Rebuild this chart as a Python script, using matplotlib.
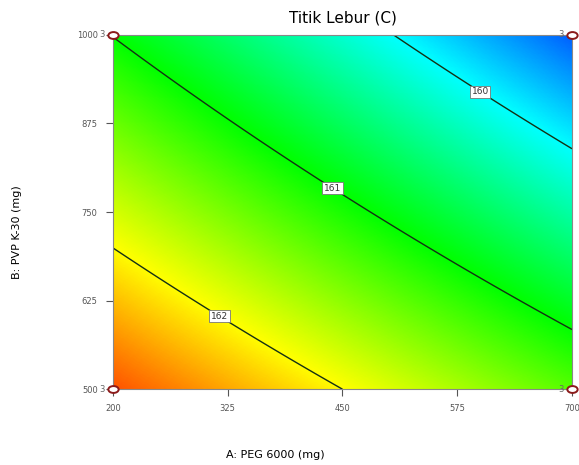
import numpy as np
import matplotlib
matplotlib.use("Agg")
import matplotlib.pyplot as plt
from matplotlib.colors import LinearSegmentedColormap
from matplotlib.path import Path
from matplotlib.transforms import Affine2D

# factor ranges (actual units)
peg_range = [200, 700]
pvp_range = [500, 1000]
x_ticks = [200, 325, 450, 575, 700]
y_ticks = [500, 625, 750, 875, 1000]

# fitted model in coded units: y = b0 + bA*a + bB*b + bAB*a*b
b0, bA, bB, bAB = 161.09, -0.74, -0.91, -0.07

levels = [160, 161, 162]
label_pos = [(602, 924), (441, 788), (318, 607)]

# design points (corners, 3 runs each)
pts_x = [200, 200, 700, 700]
pts_y = [500, 1000, 500, 1000]
pts_n = [3, 3, 3, 3]

A = np.linspace(peg_range[0], peg_range[1], 300)
B = np.linspace(pvp_range[0], pvp_range[1], 300)
AA, BB = np.meshgrid(A, B)
a = (AA - 450) / 250.0
b = (BB - 750) / 250.0
Z = b0 + bA * a + bB * b + bAB * a * b

cmap = LinearSegmentedColormap.from_list(
    "de", ["#0000ff", "#00ffff", "#00ff00", "#ffff00", "#ff0000"])

fig = plt.figure(figsize=(5.79, 4.65), dpi=100)
ax = fig.add_axes([0.195, 0.163, 0.793, 0.762])

ax.imshow(Z, origin="lower", extent=[200, 700, 500, 1000], aspect="auto",
          cmap=cmap, vmin=159, vmax=163, interpolation="bilinear")
cs = ax.contour(AA, BB, Z, levels=levels, colors="#143014", linewidths=1.0)
labels = ax.clabel(cs, fmt="%d", inline=False, fontsize=6.5, manual=label_pos)
for t in labels:
    t.set_rotation(0)
    t.set_color("#333333")
    t.set_bbox(dict(facecolor="white", edgecolor="#777777", pad=1.2, lw=0.6))

# design points, drawn as flat ellipses
ell = Path.unit_circle().transformed(Affine2D().scale(1.5, 1.0))
ax.scatter(pts_x, pts_y, s=55, facecolor="white", edgecolor="#8b1a1a",
           linewidth=1.4, marker=ell, clip_on=False, zorder=5)
for x, y, n in zip(pts_x, pts_y, pts_n):
    ax.annotate(str(n), (x, y), xytext=(-8, 0), textcoords="offset points",
                fontsize=6, color="#666666", ha="center", va="center",
                annotation_clip=False)

ax.set_xlim(peg_range)
ax.set_ylim(pvp_range)
ax.set_xticks(x_ticks)
ax.set_yticks(y_ticks)
ax.tick_params(labelsize=6, colors="#555555", length=5, width=0.8, pad=6)
for s in ax.spines.values():
    s.set_color("#888888")

ax.set_title("Titik Lebur (C)", fontsize=11, pad=9)
fig.text(0.475, 0.01, "A: PEG 6000 (mg)", fontsize=8, ha="center", va="bottom")
fig.text(0.03, 0.5, "B: PVP K-30 (mg)", fontsize=8, rotation=90,
         ha="center", va="center")

fig.savefig("out.png", dpi=100)
